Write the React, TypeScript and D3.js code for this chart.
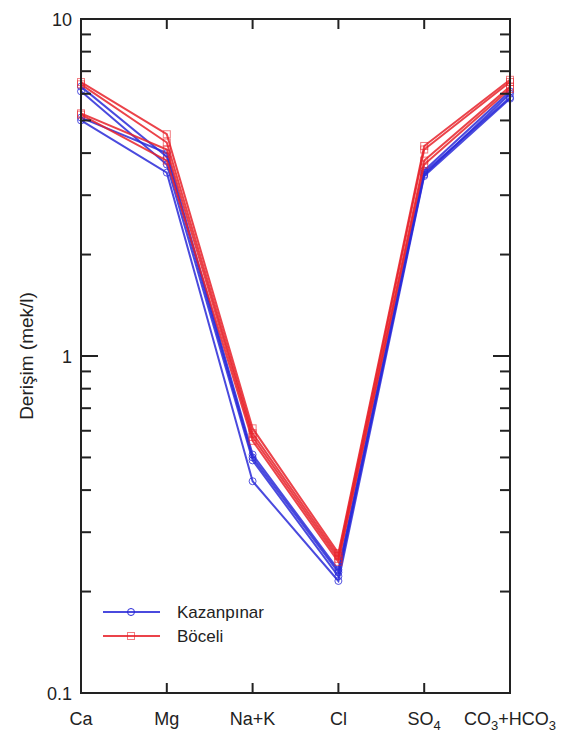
import React from "react";
import * as d3 from "d3";

const categories = ["Ca", "Mg", "Na+K", "Cl", "SO4", "CO3+HCO3"];

const kazanpinar: number[][] = [
  [6.3, 3.9, 0.5, 0.228, 3.45, 6.0],
  [6.1, 3.7, 0.49, 0.222, 3.5, 5.85],
  [5.0, 3.5, 0.425, 0.215, 3.42, 5.8],
  [5.1, 4.0, 0.51, 0.232, 3.55, 6.1],
];

const boceli: number[][] = [
  [6.5, 4.55, 0.61, 0.26, 4.2, 6.6],
  [6.4, 4.3, 0.59, 0.255, 4.1, 6.5],
  [5.25, 4.1, 0.575, 0.25, 3.8, 6.3],
  [5.2, 3.8, 0.56, 0.245, 3.7, 6.2],
];

const yTickLabels = [0.1, 1, 10];
const seriesNames = ["Kazanpınar", "Böceli"];

const W = 583;
const H = 733;
const M = { left: 81, right: 73, top: 19, bottom: 40 };
const BLUE = "#2a2ad8";
const RED = "#e8222a";
const FONT = "'Liberation Sans', Arial, sans-serif";

function CatLabel({ name }: { name: string }) {
  if (name === "SO4")
    return (
      <>
        SO<tspan dy={5} fontSize={13}>4</tspan>
      </>
    );
  if (name === "CO3+HCO3")
    return (
      <>
        CO<tspan dy={5} fontSize={13}>3</tspan>
        <tspan dy={-5}>+HCO</tspan>
        <tspan dy={5} fontSize={13}>3</tspan>
      </>
    );
  return <>{name}</>;
}

export default function App() {
  const x = d3
    .scalePoint<string>()
    .domain(categories)
    .range([M.left, W - M.right]);
  const y = d3.scaleLog().domain([0.1, 10]).range([H - M.bottom, M.top]);
  const line = d3
    .line<number>()
    .x((_, i) => x(categories[i])!)
    .y((d) => y(d));

  const minor: number[] = [];
  for (const base of [0.1, 1]) {
    for (let k = 2; k <= 9; k++) minor.push(base * k);
  }

  const x0 = M.left;
  const x1 = W - M.right;
  const yb = H - M.bottom;
  const yt = M.top;

  const groups = [
    { data: kazanpinar, color: BLUE, marker: "circle" },
    { data: boceli, color: RED, marker: "square" },
  ];

  return (
    <svg
      width={W}
      height={H}
      style={{ position: "absolute", left: 0, top: 0, background: "#fff" }}
      fontFamily={FONT}
    >
      {groups.map((g, gi) => (
        <g key={gi}>
          {g.data.map((row, ri) => (
            <g key={ri}>
              <path
                d={line(row)!}
                fill="none"
                stroke={g.color}
                strokeWidth={2}
                strokeOpacity={0.85}
              />
              {row.map((v, i) =>
                g.marker === "circle" ? (
                  <circle
                    key={i}
                    cx={x(categories[i])}
                    cy={y(v)}
                    r={3.5}
                    fill="none"
                    stroke={g.color}
                    strokeWidth={1}
                    strokeOpacity={0.8}
                  />
                ) : (
                  <rect
                    key={i}
                    x={x(categories[i])! - 3.5}
                    y={y(v) - 3.5}
                    width={7}
                    height={7}
                    fill="none"
                    stroke={g.color}
                    strokeWidth={1}
                    strokeOpacity={0.6}
                  />
                )
              )}
            </g>
          ))}
        </g>
      ))}

      <rect
        x={x0}
        y={yt}
        width={x1 - x0}
        height={yb - yt}
        fill="none"
        stroke="#222"
        strokeWidth={2}
      />

      {minor.map((v) => (
        <g key={v}>
          <line x1={x0} x2={x0 + 10} y1={y(v)} y2={y(v)} stroke="#222" strokeWidth={2} />
          <line x1={x1} x2={x1 - 10} y1={y(v)} y2={y(v)} stroke="#222" strokeWidth={2} />
        </g>
      ))}
      <line x1={x0} x2={x0 + 17} y1={y(1)} y2={y(1)} stroke="#222" strokeWidth={2} />
      <line x1={x1} x2={x1 - 17} y1={y(1)} y2={y(1)} stroke="#222" strokeWidth={2} />
      {yTickLabels.map((v) => (
        <text
          key={v}
          x={x0 - 9}
          y={y(v) + 7}
          textAnchor="end"
          fontSize={18}
          fill="#222"
        >
          {String(v)}
        </text>
      ))}

      {categories.map((c, i) => (
        <g key={c}>
          {i > 0 && i < categories.length - 1 && (
            <>
              <line x1={x(c)} x2={x(c)} y1={yb} y2={yb - 10} stroke="#222" strokeWidth={2} />
              <line x1={x(c)} x2={x(c)} y1={yt} y2={yt + 10} stroke="#222" strokeWidth={2} />
            </>
          )}
          <text
            x={x(c)}
            y={yb + 32}
            textAnchor="middle"
            fontSize={18}
            fill="#222"
          >
            <CatLabel name={c} />
          </text>
        </g>
      ))}

      <text
        transform={`translate(33, ${(yt + yb) / 2}) rotate(-90)`}
        textAnchor="middle"
        fontSize={19}
        fill="#222"
      >
        Derişim (mek/l)
      </text>

      {seriesNames.map((name, i) => {
        const ly = 612 + i * 24;
        const col = i === 0 ? BLUE : RED;
        return (
          <g key={name}>
            <line x1={103} x2={160} y1={ly} y2={ly} stroke={col} strokeWidth={1.8} strokeOpacity={0.85} />
            {i === 0 ? (
              <circle cx={131} cy={ly} r={3.5} fill="none" stroke={col} strokeWidth={1} />
            ) : (
              <rect x={127.5} y={ly - 3.5} width={7} height={7} fill="none" stroke={col} strokeWidth={1} strokeOpacity={0.6} />
            )}
            <text x={177} y={ly + 6} fontSize={17} fill="#222">
              {name}
            </text>
          </g>
        );
      })}
    </svg>
  );
}
